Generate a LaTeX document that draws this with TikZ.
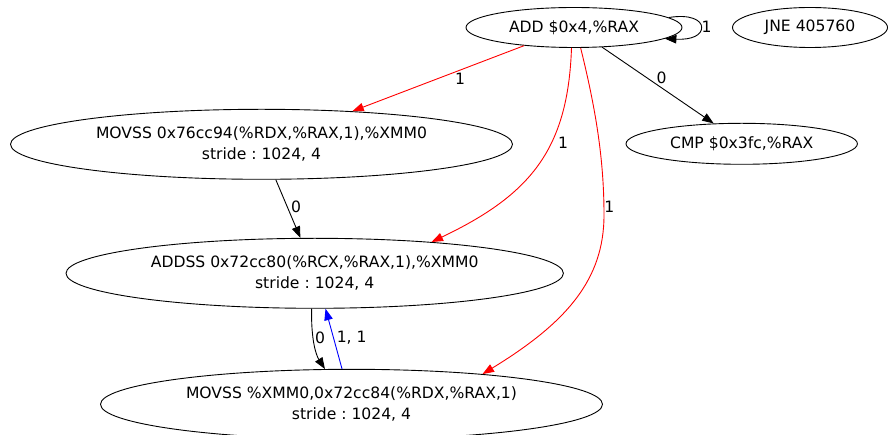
\documentclass[tikz,border=0pt]{standalone}
\usepackage{fontspec}
\setmainfont{DejaVu Sans}
\frenchspacing
\usetikzlibrary{arrows.meta,shapes.geometric}
\tikzset{
  gnode/.style={draw, ellipse, inner sep=0pt, align=center, line width=0.9pt,
    font=\fontsize{15.6}{20.7}\selectfont},
  edge/.style={line width=0.9pt, -{Triangle[length=11.5pt 0,width=8.5pt 0]}},
  lbl/.style={inner sep=0pt, font=\fontsize{15.6}{18}\selectfont},
}
\begin{document}
\begin{tikzpicture}[x=1pt,y=-1pt]
\useasboundingbox (0,0) rectangle (888,435);
\node[gnode, minimum width=216pt, minimum height=40pt] (add) at (574,27.5) {ADD \$0x4,\%RAX};
\node[gnode, minimum width=155pt, minimum height=40pt] (jne) at (810,27.5) {JNE 405760};
\node[gnode, minimum width=502pt, minimum height=70pt] (movA) at (261.5,144.3) {MOVSS 0x76cc94(\%RDX,\%RAX,1),\%XMM0\\stride : 1024, 4};
\node[gnode, minimum width=231.4pt, minimum height=41pt] (cmp) at (741.7,143.8) {CMP \$0x3fc,\%RAX};
\node[gnode, minimum width=497.4pt, minimum height=70pt] (addss) at (314.7,273.3) {ADDSS 0x72cc80(\%RCX,\%RAX,1),\%XMM0\\stride : 1024, 4};
\node[gnode, minimum width=502pt, minimum height=70pt] (movB) at (351.5,404.3) {MOVSS \%XMM0,0x72cc84(\%RDX,\%RAX,1)\\stride : 1024, 4};

% self loop
\draw[edge] (add.6) .. controls (690,14) and (701.7,20) .. (701.7,27.5)
  .. controls (701.7,35) and (692,40) .. (add.-7);
\node[lbl] (l0) at (706.5,27) {1};

% ADD -> MOVSS A
\draw[edge, red] (add.200) -- (movA.20.6);
\node[lbl] (l1) at (460,79) {1};
% ADD -> ADDSS
\draw[edge, red] (add.263.6) .. controls (568,150) and (530,195) .. (addss.15.5);
\node[lbl] (l2) at (563,143) {1};
% ADD -> MOVSS B
\draw[edge, red] (add.288.1) .. controls (596,110) and (604,160) .. (604,215)
  .. controls (604,280) and (566,323) .. (movB.13);
\node[lbl] (l3) at (609.3,207.3) {1};
% ADD -> CMP
\draw[edge] (add.325.4) -- (cmp.144.7);
\node[lbl] (l4) at (661.7,78.3) {0};
% MOVSS A -> ADDSS
\draw[edge] (movA.292.5) -- (addss.112.8);
\node[lbl] (l5) at (296,207.3) {0};
% ADDSS -> MOVSS B
\draw[edge] (addss.265.2) .. controls (311,340) and (316,355) .. (movB.127.1);
\node[lbl] (l6) at (320,337.7) {0};
% MOVSS B -> ADDSS
\draw[edge, blue] (movB.105.6) -- (addss.287.4);
\node[lbl] (l7) at (351.7,337.7) {1, 1};
\end{tikzpicture}
\end{document}
